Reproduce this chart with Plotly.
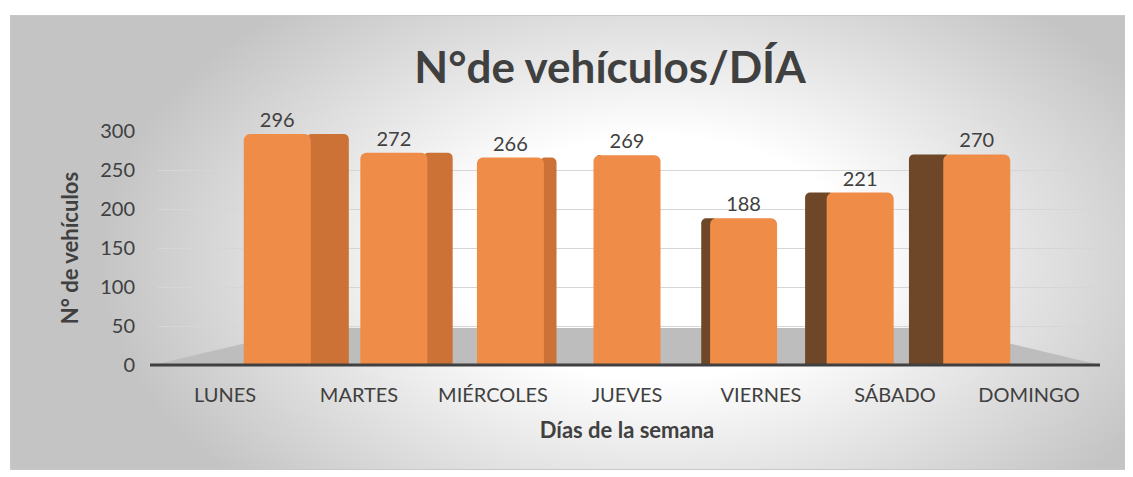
import base64
import plotly.graph_objects as go

# ---- data ----
dias = ["LUNES", "MARTES", "MIÉRCOLES", "JUEVES", "VIERNES", "SÁBADO", "DOMINGO"]
vehiculos = [296, 272, 266, 269, 188, 221, 270]
y_ticks = [0, 50, 100, 150, 200, 250, 300]

titulo = "N°de vehículos/DÍA"
titulo_x = "Días de la semana"
titulo_y = "N° de vehículos"

# ---- layout geometry (figure pixels; page has an 8px body margin) ----
W, H = 1133, 477
OFF = 8
L, R, T, B = 150, 45, 123, 120
PW, PH = W - L - R, H - T - B


def px(x_page):
    return (x_page - OFF - L) / PW


def py(y_page):
    return (H - B - (y_page - OFF)) / PH


# perspective shift of each bar (style only, derived from index)
n = len(dias)
mid = (n - 1) / 2
front_w = 0.5
shift = [(mid - i) * 0.13 for i in range(n)]
front_off = [s - front_w / 2 for s in shift]
side_w = [abs(mid - i) * 0.095 + 0.001 for i in range(n)]
side_off = [
    (front_off[i] + front_w - 0.03) if i < mid else (front_off[i] - side_w[i] + 0.03)
    for i in range(n)
]
side_w = [w + 0.028 for w in side_w]
side_col = ["#CC7236" if i < mid else "#6E4628" for i in range(n)]

fig = go.Figure()
fig.add_trace(go.Bar(
    x=dias, y=vehiculos, width=side_w, offset=side_off,
    marker=dict(color=side_col, line=dict(width=0), cornerradius=5),
    hoverinfo="skip", showlegend=False,
))
fig.add_trace(go.Bar(
    x=dias, y=vehiculos, width=[front_w] * n, offset=front_off,
    marker=dict(color="#EF8C47", line=dict(width=0), cornerradius=6),
    text=vehiculos, textposition="outside", cliponaxis=False,
    textfont=dict(family="Lato", size=20, color="#404040"),
    showlegend=False,
))

# background gradient with border
svg = f'''<svg xmlns="http://www.w3.org/2000/svg" width="{W}" height="{H}" viewBox="0 0 {W} {H}">
<defs><radialGradient id="g" gradientUnits="userSpaceOnUse" cx="650" cy="250" r="560"
 gradientTransform="translate(650 250) scale(1 0.6) translate(-650 -250)">
<stop offset="0" stop-color="#ffffff"/><stop offset="0.36" stop-color="#ffffff"/>
<stop offset="1" stop-color="#c4c4c4"/></radialGradient></defs>
<rect x="0" y="0" width="{W}" height="{H}" fill="#ffffff"/>
<rect x="2.5" y="7.5" width="1120" height="454" fill="url(#g)" stroke="#c8c8c8" stroke-width="1"/>
</svg>'''
src = "data:image/svg+xml;base64," + base64.b64encode(svg.encode()).decode()

fig.add_layout_image(dict(
    source=src, xref="paper", yref="paper",
    x=px(OFF), y=py(OFF), sizex=W / PW, sizey=H / PH,
    xanchor="left", yanchor="top", sizing="stretch", layer="below",
))

# floor
floor = (f"M {px(153)} {py(365)} L {px(1100)} {py(365)} "
         f"L {px(945)} {py(328)} L {px(310)} {py(328)} Z")
fig.add_shape(type="path", path=floor, xref="paper", yref="paper",
              fillcolor="#BDBDBD", line=dict(width=0), layer="below")
fig.add_shape(type="line", xref="paper", yref="paper",
              x0=px(150), x1=px(1100), y0=0, y1=0,
              line=dict(color="#404040", width=3))

fig.update_layout(
    width=W, height=H,
    margin=dict(l=L, r=R, t=T, b=B, autoexpand=False),
    paper_bgcolor="rgba(0,0,0,0)", plot_bgcolor="rgba(0,0,0,0)",
    barmode="overlay",
    font=dict(family="Lato", color="#404040"),
    title=dict(text=titulo, xref="container", x=(610 - OFF) / W, xanchor="center",
               y=1 - (68 - OFF) / H, yanchor="middle",
               font=dict(family="Lato", size=44, color="#404040", weight="bold")),
    xaxis=dict(
        showgrid=False, showline=False, ticks="",
        tickfont=dict(size=20, color="#404040"), ticklabelstandoff=16,
        title=dict(text=titulo_x, standoff=17,
                   font=dict(size=22, color="#404040", weight="bold")),
        range=[-0.5, n - 0.5],
    ),
    yaxis=dict(
        range=[0, 300], tickvals=y_ticks, showline=False, zeroline=False,
        gridcolor="#D6D6D6", gridwidth=1, ticks="",
        tickfont=dict(size=20, color="#404040"), ticklabelstandoff=22,
        title=dict(text=titulo_y, standoff=15,
                   font=dict(size=22, color="#404040", weight="bold")),
    ),
)

fig.write_html("out.html")
